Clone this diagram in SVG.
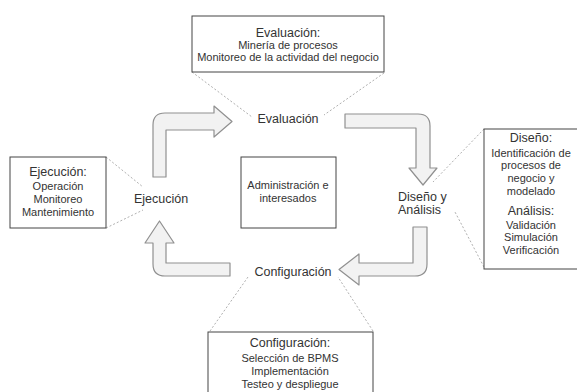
<svg xmlns="http://www.w3.org/2000/svg" width="577" height="392" viewBox="0 0 577 392">
<style>
text{font-family:"Liberation Sans",Arial,sans-serif;fill:#333;text-anchor:middle}
.t{font-size:12.5px}
.d{font-size:11px}
.box{fill:#fff;stroke:#444;stroke-width:1}
.arr{fill:#f2f2f2;stroke:#909090;stroke-width:1.2;stroke-linejoin:round}
.dot{fill:none;stroke:#b0b0b0;stroke-width:1;stroke-dasharray:2 2}
</style>
<rect width="577" height="392" fill="#fff"/>
<g id="connectors">
<path class="arr" d="M153,177 L153,125 Q153,113 165,113 L214,113 L214,106 L232,121.5 L214,137 L214,130 L166,130 L166,177 Z"/>
<path class="arr" d="M345,114 L418,114 Q430,114 430,126 L430,168 L437,168 L423,185 L409,168 L416,168 L416,128 L345,128 Z"/>
<path class="arr" d="M413,227 L427,227 L427,264 Q427,276 415,276 L359,276 L359,285 L339,269.5 L359,254 L359,263 L413,263 Z"/>
<path class="arr" d="M230,263 L230,276 L165,276 Q153,276 153,264 L153,243 L145,243 L159.5,221 L174,243 L166,243 L166,263 Z"/>
<line class="dot" x1="192" y1="72" x2="252" y2="117"/>
<line class="dot" x1="384" y1="73" x2="324" y2="115"/>
<line class="dot" x1="106" y1="157" x2="143" y2="187"/>
<line class="dot" x1="106" y1="228" x2="143" y2="210"/>
<line class="dot" x1="484" y1="129" x2="433" y2="182"/>
<line class="dot" x1="484" y1="267" x2="455" y2="212"/>
<line class="dot" x1="210" y1="331" x2="248" y2="277"/>
<line class="dot" x1="373" y1="331" x2="338" y2="277"/>
</g>
<g id="lbl-evaluacion"><text class="t" x="288" y="123">Evaluación</text></g>
<g id="lbl-ejecucion"><text class="t" x="161" y="203">Ejecución</text></g>
<g id="lbl-diseno"><text class="t" x="398" y="201" style="text-anchor:start">Diseño y</text><text class="t" x="398" y="214" style="text-anchor:start">Análisis</text></g>
<g id="lbl-configuracion"><text class="t" x="293" y="276">Configuración</text></g>
<g id="box-evaluacion">
<rect class="box" x="192" y="16" width="192" height="56"/>
<text class="t" x="288" y="37">Evaluación:</text>
<text class="d" x="288" y="49">Minería de procesos</text>
<text class="d" x="288" y="61">Monitoreo de la actividad del negocio</text>
</g>
<g id="box-ejecucion">
<rect class="box" x="10" y="157" width="96" height="71"/>
<text class="t" x="58" y="176">Ejecución:</text>
<text class="d" x="58" y="190">Operación</text>
<text class="d" x="58" y="203">Monitoreo</text>
<text class="d" x="58" y="216">Mantenimiento</text>
</g>
<g id="box-admin">
<rect class="box" x="241" y="157" width="95" height="71"/>
<text class="d" x="288" y="189">Administración e</text>
<text class="d" x="288" y="202">interesados</text>
</g>
<g id="box-diseno">
<rect class="box" x="484" y="129" width="95" height="140"/>
<text class="t" x="531" y="142">Diseño:</text>
<text class="d" x="531" y="157">Identificación de</text>
<text class="d" x="531" y="169">procesos de</text>
<text class="d" x="531" y="182">negocio y</text>
<text class="d" x="531" y="195">modelado</text>
<text class="t" x="531" y="215">Análisis:</text>
<text class="d" x="531" y="229">Validación</text>
<text class="d" x="531" y="241">Simulación</text>
<text class="d" x="531" y="254">Verificación</text>
</g>
<g id="box-configuracion">
<rect class="box" x="208" y="332" width="165" height="70"/>
<text class="t" x="290" y="347">Configuración:</text>
<text class="d" x="290" y="362">Selección de BPMS</text>
<text class="d" x="290" y="375">Implementación</text>
<text class="d" x="290" y="388">Testeo y despliegue</text>
</g>
</svg>
